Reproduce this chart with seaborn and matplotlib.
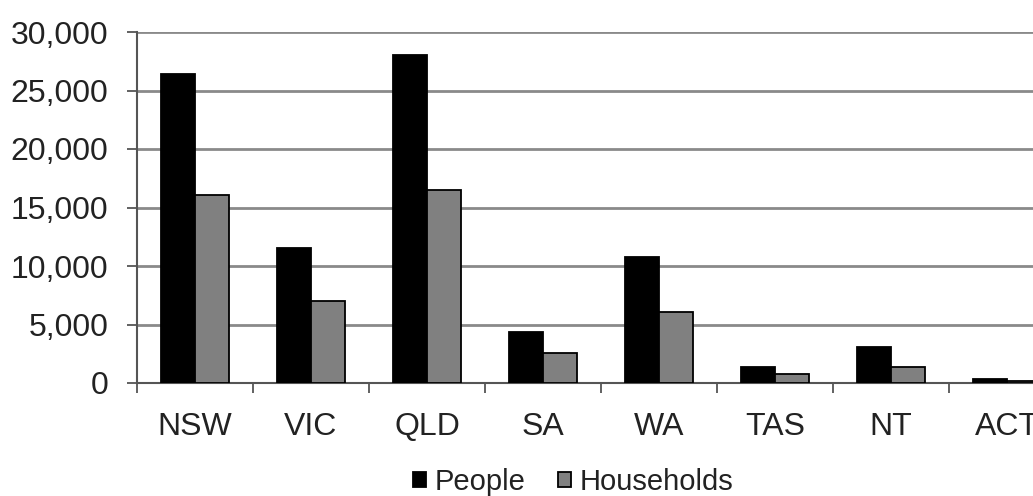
import matplotlib
matplotlib.use("Agg")
import matplotlib.pyplot as plt
import seaborn as sns
import pandas as pd
from matplotlib.ticker import FuncFormatter, FixedLocator

states = ["NSW", "VIC", "QLD", "SA", "WA", "TAS", "NT", "ACT"]
people = [26400, 11500, 28000, 4400, 10750, 1400, 3050, 320]
households = [16100, 7050, 16500, 2550, 6100, 750, 1400, 200]
series_names = ["People", "Households"]
y_ticks = [0, 5000, 10000, 15000, 20000, 25000, 30000]

df = pd.DataFrame({
    "state": states * 2,
    "value": people + households,
    "series": [series_names[0]] * len(states) + [series_names[1]] * len(states),
})

sns.set_theme(style="white")
plt.rcParams["font.family"] = ["Liberation Sans", "DejaVu Sans"]
text_color = "#222222"
fs = 23
legend_fs = 21

fig = plt.figure(figsize=(10.33, 4.96), dpi=100)
ax = fig.add_axes([137 / 1033, 113 / 496, 928 / 1033, 351 / 496])

sns.barplot(data=df, x="state", y="value", hue="series", order=states,
            hue_order=series_names, palette=["#000000", "#808080"],
            width=0.58, edgecolor="black", linewidth=1.3, saturation=1,
            ax=ax, zorder=3)

ax.set_xlim(-0.5, len(states) - 0.5)
ax.set_ylim(0, 30000)
ax.set_yticks(y_ticks)
ax.yaxis.set_major_formatter(FuncFormatter(lambda v, p: f"{int(v):,}"))
ax.grid(axis="y", color="#8a8a8a", linewidth=2, zorder=0)
ax.grid(axis="x", visible=False)
ax.set_axisbelow(True)
ax.set_xlabel("")
ax.set_ylabel("")

for s in ["top", "right"]:
    ax.spines[s].set_visible(False)
for s in ["left", "bottom"]:
    ax.spines[s].set_visible(True)
    ax.spines[s].set_color("#555555")
    ax.spines[s].set_linewidth(1.5)

ax.xaxis.set_minor_locator(FixedLocator([i - 0.5 for i in range(len(states) + 1)]))
ax.tick_params(axis="x", which="major", length=0, pad=21, labelsize=fs, labelcolor=text_color)
ax.tick_params(axis="x", which="minor", length=7.5, width=1.3, color="#555555", direction="out", bottom=True)
ax.tick_params(axis="y", which="major", length=7.5, width=1.3, color="#555555", direction="out",
               left=True, pad=13, labelsize=fs, labelcolor=text_color)

handles, labels = ax.get_legend_handles_labels()
if ax.legend_:
    ax.legend_.remove()
fig.legend(handles, labels, loc="center", bbox_to_anchor=(573 / 1033, 1 - 482 / 496),
           ncol=2, frameon=False, fontsize=legend_fs, handlelength=0.45, handleheight=0.45,
           handletextpad=0.3, columnspacing=1.1, labelcolor=text_color, borderpad=0)

fig.savefig("out.png", dpi=100)
